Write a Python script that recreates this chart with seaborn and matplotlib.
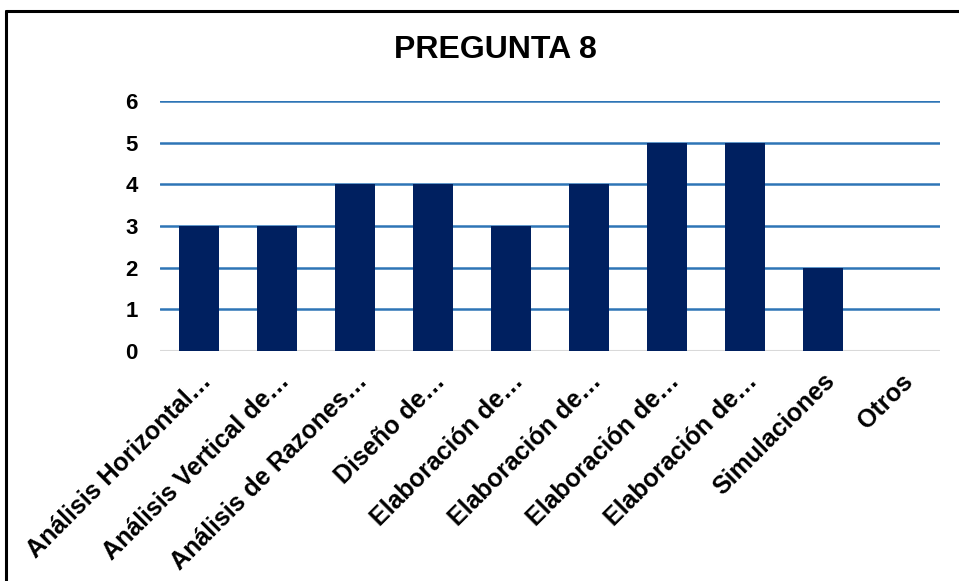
import matplotlib
matplotlib.use("Agg")
import matplotlib.pyplot as plt
import seaborn as sns
import pandas as pd
from matplotlib.lines import Line2D

categorias = [
    "Análisis Horizontal…",
    "Análisis Vertical de…",
    "Análisis de Razones…",
    "Diseño de…",
    "Elaboración de…",
    "Elaboración de…",
    "Elaboración de…",
    "Elaboración de…",
    "Simulaciones",
    "Otros",
]
valores = [3, 3, 4, 4, 3, 4, 5, 5, 2, 0]
ticks_y = [0, 1, 2, 3, 4, 5, 6]

sns.set_theme(style="white")
plt.rcParams["font.family"] = ["Liberation Sans", "DejaVu Sans"]
plt.rcParams["text.color"] = "black"
plt.rcParams["xtick.color"] = "black"
plt.rcParams["ytick.color"] = "black"

df = pd.DataFrame({"pos": range(len(categorias)), "valor": valores})

fig = plt.figure(figsize=(9.59, 5.81), dpi=100)
ax = fig.add_axes([160 / 959, 1 - 351 / 581, 780 / 959, 250 / 581])

sns.barplot(data=df, x="pos", y="valor", color="#002060", saturation=1,
            width=0.51, linewidth=0, ax=ax, zorder=3)

ax.set_ylim(0, 6)
ax.set_xlim(-0.5, len(categorias) - 0.5)
ax.set_yticks(ticks_y)
ax.set_yticklabels([str(t) for t in ticks_y], fontsize=16, fontweight="bold")
ax.set_xticks(range(len(categorias)))
ax.set_xticklabels(categorias, rotation=45, ha="right", rotation_mode="anchor",
                   fontsize=18, fontweight="bold")
ax.tick_params(axis="x", pad=13, length=0)
ax.tick_params(axis="y", pad=16, length=0)
ax.set_xlabel("")
ax.set_ylabel("")

for t in ticks_y[1:]:
    ax.axhline(t, color="#2E75B6", lw=1.8, zorder=1)
ax.axhline(0, color="#D9D9D9", lw=1.5, zorder=2)

for s in ax.spines.values():
    s.set_visible(False)

fig.text(0.517, 0.914, "PREGUNTA 8", ha="center", va="center",
         fontsize=23, fontweight="bold")

# outer frame (left and top edges)
fig.add_artist(Line2D([6 / 959, 6 / 959], [0, 1 - 11 / 581], color="black", lw=2.2))
fig.add_artist(Line2D([6 / 959, 1], [1 - 11 / 581, 1 - 11 / 581], color="black", lw=2.2))

fig.savefig("out.png", dpi=100)
